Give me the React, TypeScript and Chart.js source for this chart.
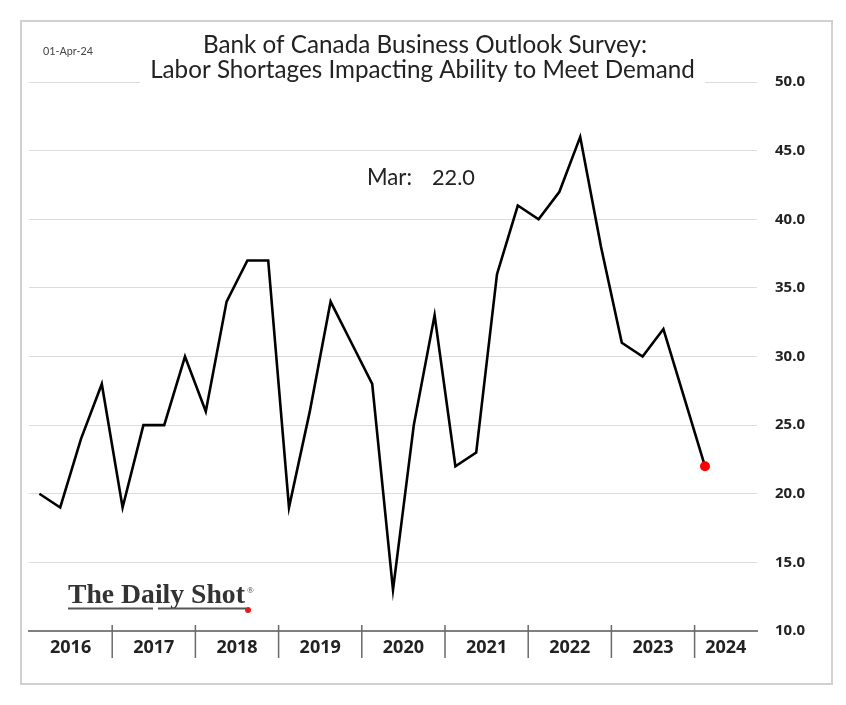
import React, { useEffect, useRef } from 'react';
import { Chart, registerables } from 'chart.js';

Chart.register(...registerables);

// ---- data ----
const YEARS = ['2016', '2017', '2018', '2019', '2020', '2021', '2022', '2023', '2024'];
const CATEGORIES = [
  '2016 Q1', '2016 Q2', '2016 Q3', '2016 Q4',
  '2017 Q1', '2017 Q2', '2017 Q3', '2017 Q4',
  '2018 Q1', '2018 Q2', '2018 Q3', '2018 Q4',
  '2019 Q1', '2019 Q2', '2019 Q3', '2019 Q4',
  '2020 Q1', '2020 Q2', '2020 Q3', '2020 Q4',
  '2021 Q1', '2021 Q2', '2021 Q3', '2021 Q4',
  '2022 Q1', '2022 Q2', '2022 Q3', '2022 Q4',
  '2023 Q1', '2023 Q2', '2023 Q3', '2023 Q4',
  '2024 Q1', '2024 Q2', '2024 Q3',
];
const VALUES = [
  20, 19, 24, 28,
  19, 25, 25, 30,
  26, 34, 37, 37,
  19, 26, 34, 31,
  28, 13, 25, 33,
  22, 23, 36, 41,
  40, 42, 46, 38,
  31, 30, 32, 27,
  22,
];
const Y_MIN = 10;
const Y_MAX = 50;
const Y_STEP = 5;
const TITLE_LINES = [
  'Bank of Canada Business Outlook Survey:',
  'Labor Shortages Impacting Ability to Meet Demand',
];
const DATE_LABEL = '01-Apr-24';
const LAST_LABEL = 'Mar:';
const SOURCE = 'The Daily Shot';

function fitSize(ctx: CanvasRenderingContext2D, text: string, weight: string, family: string, target: number) {
  ctx.font = `${weight} 100px ${family}`;
  const w = ctx.measureText(text).width;
  return (100 * target) / w;
}

const decorPlugin = {
  id: 'decor',
  beforeDraw(chart: any) {
    const ctx = chart.ctx as CanvasRenderingContext2D;
    ctx.save();
    ctx.fillStyle = '#ffffff';
    ctx.fillRect(0, 0, chart.width, chart.height);
    ctx.strokeStyle = '#d0d0d0';
    ctx.lineWidth = 2;
    ctx.strokeRect(21, 21, 811, 663);
    ctx.restore();
  },
  afterDraw(chart: any) {
    const ctx = chart.ctx as CanvasRenderingContext2D;
    const { chartArea, scales } = chart;
    const xs = scales.x;
    const axisY = chartArea.bottom;
    ctx.save();

    // year dividers
    ctx.strokeStyle = '#6a6a6a';
    ctx.lineWidth = 1.5;
    for (let k = 1; k < YEARS.length; k++) {
      const i = k * 4;
      const xb = (xs.getPixelForValue(i - 1) + xs.getPixelForValue(i)) / 2;
      ctx.beginPath();
      ctx.moveTo(xb, axisY - 6);
      ctx.lineTo(xb, axisY + 27);
      ctx.stroke();
    }
    // year labels
    ctx.fillStyle = '#222';
    ctx.font = 'bold 18px "Open Sans"';
    ctx.textAlign = 'center';
    ctx.textBaseline = 'alphabetic';
    YEARS.forEach((y, k) => {
      const s = k * 4;
      const e = Math.min(s + 3, CATEGORIES.length - 1);
      const cx = (xs.getPixelForValue(s) + xs.getPixelForValue(e)) / 2;
      ctx.fillText(y, cx, axisY + 22);
    });

    // title with white background
    ctx.fillStyle = '#ffffff';
    ctx.fillRect(140, 60, 565, 28);
    ctx.fillStyle = '#222';
    const fam = '"Lato"';
    const s1 = fitSize(ctx, TITLE_LINES[0], 'normal', fam, 444);
    const s2 = fitSize(ctx, TITLE_LINES[1], 'normal', fam, 545);
    ctx.textAlign = 'center';
    ctx.font = `normal ${s1}px ${fam}`;
    ctx.fillText(TITLE_LINES[0], 425, 53);
    ctx.font = `normal ${s2}px ${fam}`;
    ctx.fillText(TITLE_LINES[1], 422.5, 78);

    // date
    ctx.fillStyle = '#444';
    const sd = fitSize(ctx, DATE_LABEL, 'normal', fam, 50);
    ctx.font = `normal ${sd}px ${fam}`;
    ctx.textAlign = 'left';
    ctx.fillText(DATE_LABEL, 43, 55);

    // last value annotation
    ctx.fillStyle = '#222';
    const lastVal = VALUES[VALUES.length - 1].toFixed(1);
    const sm = fitSize(ctx, LAST_LABEL, 'normal', fam, 45);
    ctx.font = `normal ${sm}px ${fam}`;
    ctx.textAlign = 'left';
    ctx.fillText(LAST_LABEL, 367, 185);
    const sv = fitSize(ctx, lastVal, 'normal', fam, 43);
    ctx.font = `normal ${sv}px ${fam}`;
    ctx.fillText(lastVal, 432, 185);

    // logo
    const lf = '"Liberation Serif"';
    const sl = fitSize(ctx, SOURCE, 'bold', lf, 177);
    ctx.font = `bold ${sl}px ${lf}`;
    ctx.fillStyle = '#333';
    ctx.textAlign = 'left';
    ctx.fillText(SOURCE, 68, 603);
    ctx.font = `normal 9px ${lf}`;
    ctx.fillText('®', 247, 593);
    ctx.strokeStyle = '#555';
    ctx.lineWidth = 2;
    ctx.beginPath();
    ctx.moveTo(68, 608.5);
    ctx.lineTo(153, 608.5);
    ctx.moveTo(158, 608.5);
    ctx.lineTo(246, 608.5);
    ctx.stroke();
    ctx.fillStyle = '#e31b1b';
    ctx.beginPath();
    ctx.arc(248, 610, 3, 0, Math.PI * 2);
    ctx.fill();

    ctx.restore();
  },
};

export default function App() {
  const ref = useRef<HTMLCanvasElement | null>(null);
  useEffect(() => {
    if (!ref.current) return;
    const last = VALUES.length - 1;
    const chart = new Chart(ref.current, {
      type: 'line',
      data: {
        labels: CATEGORIES,
        datasets: [
          {
            data: VALUES,
            borderColor: '#000000',
            borderWidth: 2.6,
            tension: 0,
            borderJoinStyle: 'miter',
            fill: false,
            pointRadius: (c: any) => (c.dataIndex === last ? 5 : 0),
            pointBackgroundColor: '#ff0000',
            pointBorderColor: '#ff0000',
            pointBorderWidth: 0,
          },
        ],
      },
      options: {
        animation: false,
        responsive: false,
        devicePixelRatio: 1,
        layout: { padding: { left: 29, top: 82, right: 0, bottom: 74 } },
        plugins: { legend: { display: false }, title: { display: false }, tooltip: { enabled: false } },
        scales: {
          x: {
            type: 'category',
            offset: true,
            grid: { display: false, drawTicks: false },
            ticks: { display: false },
            border: { display: true, color: '#808080', width: 2 },
            afterFit: (s: any) => { s.height = 0; },
          },
          y: {
            position: 'right',
            min: Y_MIN,
            max: Y_MAX,
            ticks: {
              stepSize: Y_STEP,
              padding: 18,
              color: '#222',
              font: { family: '"Open Sans"', size: 15, weight: 'bold' },
              callback: (v: any) => Number(v).toFixed(1),
            },
            grid: { color: '#dcdcdc', lineWidth: 1, drawTicks: false },
            border: { display: false },
            afterFit: (s: any) => { s.width = 89; },
          },
        },
      },
      plugins: [decorPlugin],
    } as any);
    return () => chart.destroy();
  }, []);
  return (
    <div style={{ position: 'fixed', left: 0, top: 0, width: 846, height: 705, background: '#fff' }}>
      <canvas ref={ref} width={846} height={705} style={{ width: 846, height: 705, display: 'block' }} />
    </div>
  );
}
